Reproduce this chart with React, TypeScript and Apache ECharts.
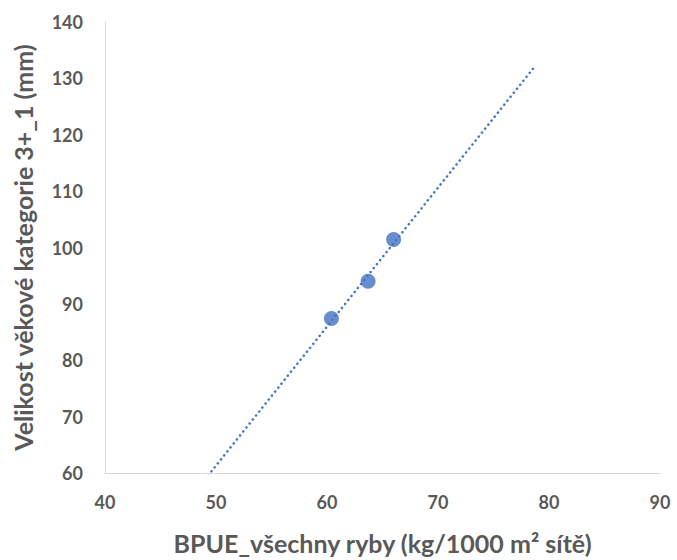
import React, { useEffect, useRef } from "react";
import * as echarts from "echarts";

// Measured samples: biomass per unit effort vs. length of age class 3+_1
const bpue = [60.4, 63.7, 66.0];
const velikost = [87.4, 94.0, 101.4];

// Trendline drawn over this x span (clipped by the plot area)
const trendRange = [45, 78.6];

const xTicks = { min: 40, max: 90, interval: 10 };
const yTicks = { min: 60, max: 140, interval: 10 };

function linearFit(xs: number[], ys: number[]) {
  const n = xs.length;
  const mx = xs.reduce((a, b) => a + b, 0) / n;
  const my = ys.reduce((a, b) => a + b, 0) / n;
  let sxy = 0;
  let sxx = 0;
  for (let i = 0; i < n; i++) {
    sxy += (xs[i] - mx) * (ys[i] - my);
    sxx += (xs[i] - mx) * (xs[i] - mx);
  }
  const slope = sxy / sxx;
  return { slope, intercept: my - slope * mx };
}

export default function App() {
  const ref = useRef<HTMLDivElement>(null);

  useEffect(() => {
    if (!ref.current) return;
    const chart = echarts.init(ref.current, undefined, { renderer: "svg" });
    const fit = linearFit(bpue, velikost);
    const trend = trendRange.map((x) => [x, fit.intercept + fit.slope * x]);
    const font = "Lato, 'Open Sans', sans-serif";
    const grey = "#595959";

    chart.setOption({
      animation: false,
      backgroundColor: "#ffffff",
      grid: { left: 105, right: 17, top: 22, bottom: 84 },
      xAxis: {
        type: "value",
        min: xTicks.min,
        max: xTicks.max,
        interval: xTicks.interval,
        name: "BPUE_všechny ryby (kg/1000 m² sítě)",
        nameLocation: "middle",
        nameGap: 57,
        nameTextStyle: { fontFamily: font, fontSize: 25, fontWeight: "bold", color: grey },
        axisLine: { show: true, lineStyle: { color: "#d9d9d9", width: 1 } },
        axisTick: { show: false },
        splitLine: { show: false },
        axisLabel: { fontFamily: font, fontSize: 18, fontWeight: "bold", color: grey, margin: 20 },
      },
      yAxis: {
        type: "value",
        min: yTicks.min,
        max: yTicks.max,
        interval: yTicks.interval,
        name: "Velikost věkové kategorie 3+_1 (mm)",
        nameLocation: "middle",
        nameRotate: 90,
        nameGap: 70,
        nameTextStyle: { fontFamily: font, fontSize: 25, fontWeight: "bold", color: grey },
        axisLine: { show: true, lineStyle: { color: "#d9d9d9", width: 1 } },
        axisTick: { show: false },
        splitLine: { show: false },
        axisLabel: { fontFamily: font, fontSize: 18, fontWeight: "bold", color: grey, margin: 22 },
      },
      series: [
        {
          type: "line",
          data: trend,
          showSymbol: false,
          symbol: "none",
          clip: true,
          lineStyle: { color: "#4472C4", width: 2.5, type: [0.1, 5], cap: "round" },
          z: 1,
        },
        {
          type: "scatter",
          data: bpue.map((x, i) => [x, velikost[i]]),
          symbol: "circle",
          symbolSize: 15,
          itemStyle: { color: "#4472C4" },
          z: 2,
        },
      ],
    });

    return () => chart.dispose();
  }, []);

  return (
    <div
      ref={ref}
      style={{ position: "absolute", left: 0, top: 0, width: 677, height: 560, background: "#fff" }}
    />
  );
}
